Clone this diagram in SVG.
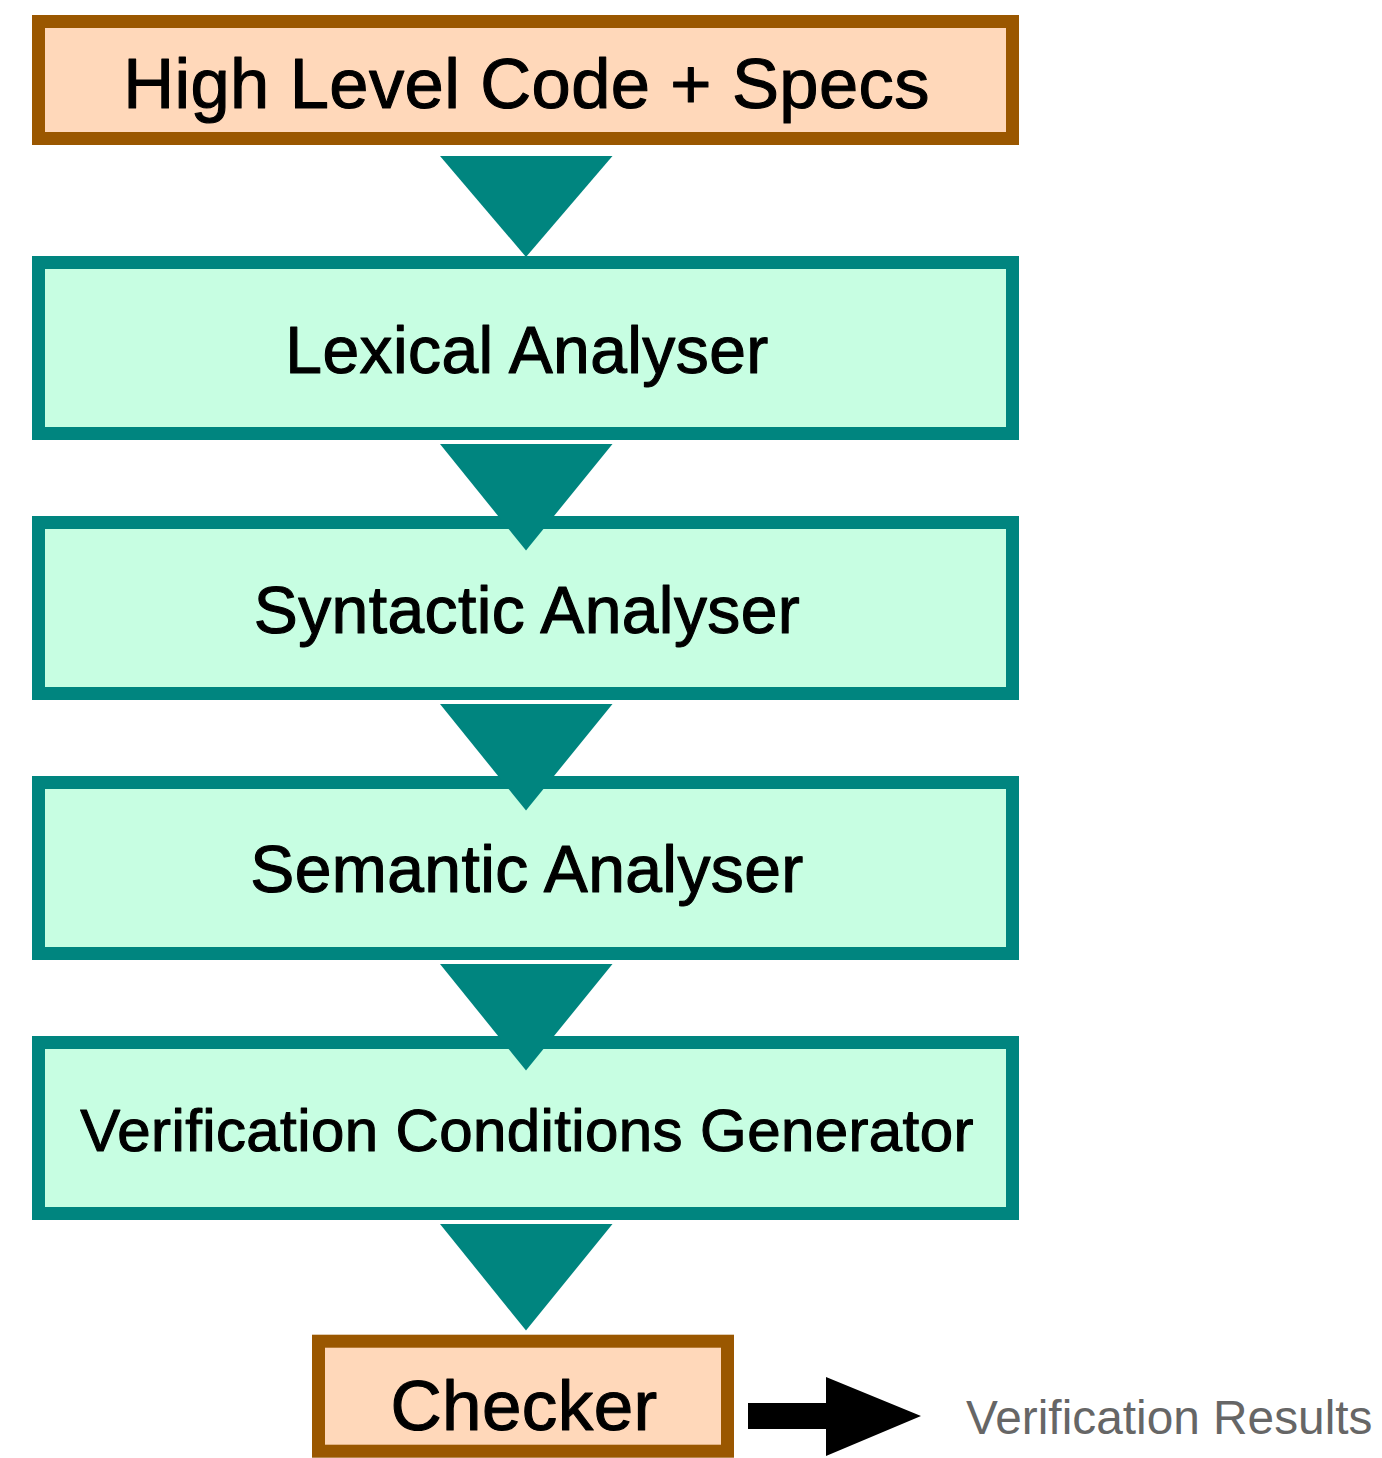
<svg xmlns="http://www.w3.org/2000/svg" width="1382" height="1458" viewBox="0 0 1382 1458">
  <style>
    .io rect { fill: #FFD8BA; stroke: #9A5700; stroke-width: 13; }
    .stage rect { fill: #C7FEE2; stroke: #00857F; stroke-width: 13; }
    text { font-family: "Liberation Sans", Arial, Helvetica, sans-serif; fill: #000; text-anchor: middle; }
    .label { stroke: #000; stroke-width: 1.1; stroke-linejoin: round; letter-spacing: 0.4px; }
    .flow { fill: #00857F; }
    .out { fill: #000; }
    .note { fill: #666666; text-anchor: start; }
  </style>

  <!-- pipeline stages -->
  <g id="source" class="io">
    <rect x="38.5" y="21.5" width="974" height="117"/>
    <text class="label" x="526.5" y="108" font-size="70.5">High Level Code + Specs</text>
  </g>
  <g id="lexical" class="stage">
    <rect x="38.5" y="262.5" width="974" height="171"/>
    <text class="label" x="527" y="373" font-size="66">Lexical Analyser</text>
  </g>
  <g id="syntactic" class="stage">
    <rect x="38.5" y="522.5" width="974" height="171"/>
    <text class="label" x="527" y="633" font-size="66">Syntactic Analyser</text>
  </g>
  <g id="semantic" class="stage">
    <rect x="38.5" y="782.5" width="974" height="171"/>
    <text class="label" x="527" y="892" font-size="66">Semantic Analyser</text>
  </g>
  <g id="vcgen" class="stage">
    <rect x="38.5" y="1042.5" width="974" height="171"/>
    <text class="label" x="527" y="1151" font-size="60">Verification Conditions Generator</text>
  </g>
  <g id="checker" class="io">
    <rect x="318.5" y="1341.2" width="409" height="110"/>
    <text class="label" x="524" y="1430" font-size="71">Checker</text>
  </g>

  <!-- connectors: downward flow triangles and the output arrow -->
  <g id="connectors">
    <polygon class="flow" points="440,156 612.5,156 526,257"/>
    <polygon class="flow" points="440,444 612.5,444 526,550.5"/>
    <polygon class="flow" points="440,704 612.5,704 526,810.5"/>
    <polygon class="flow" points="440,964 612.5,964 526,1070.5"/>
    <polygon class="flow" points="440,1224 612.5,1224 526,1330.5"/>
    <polygon class="out" points="748,1403 826,1403 826,1377 921,1416 826,1456 826,1429 748,1429"/>
  </g>

  <text class="note" x="966" y="1434" font-size="47.8">Verification Results</text>
</svg>
